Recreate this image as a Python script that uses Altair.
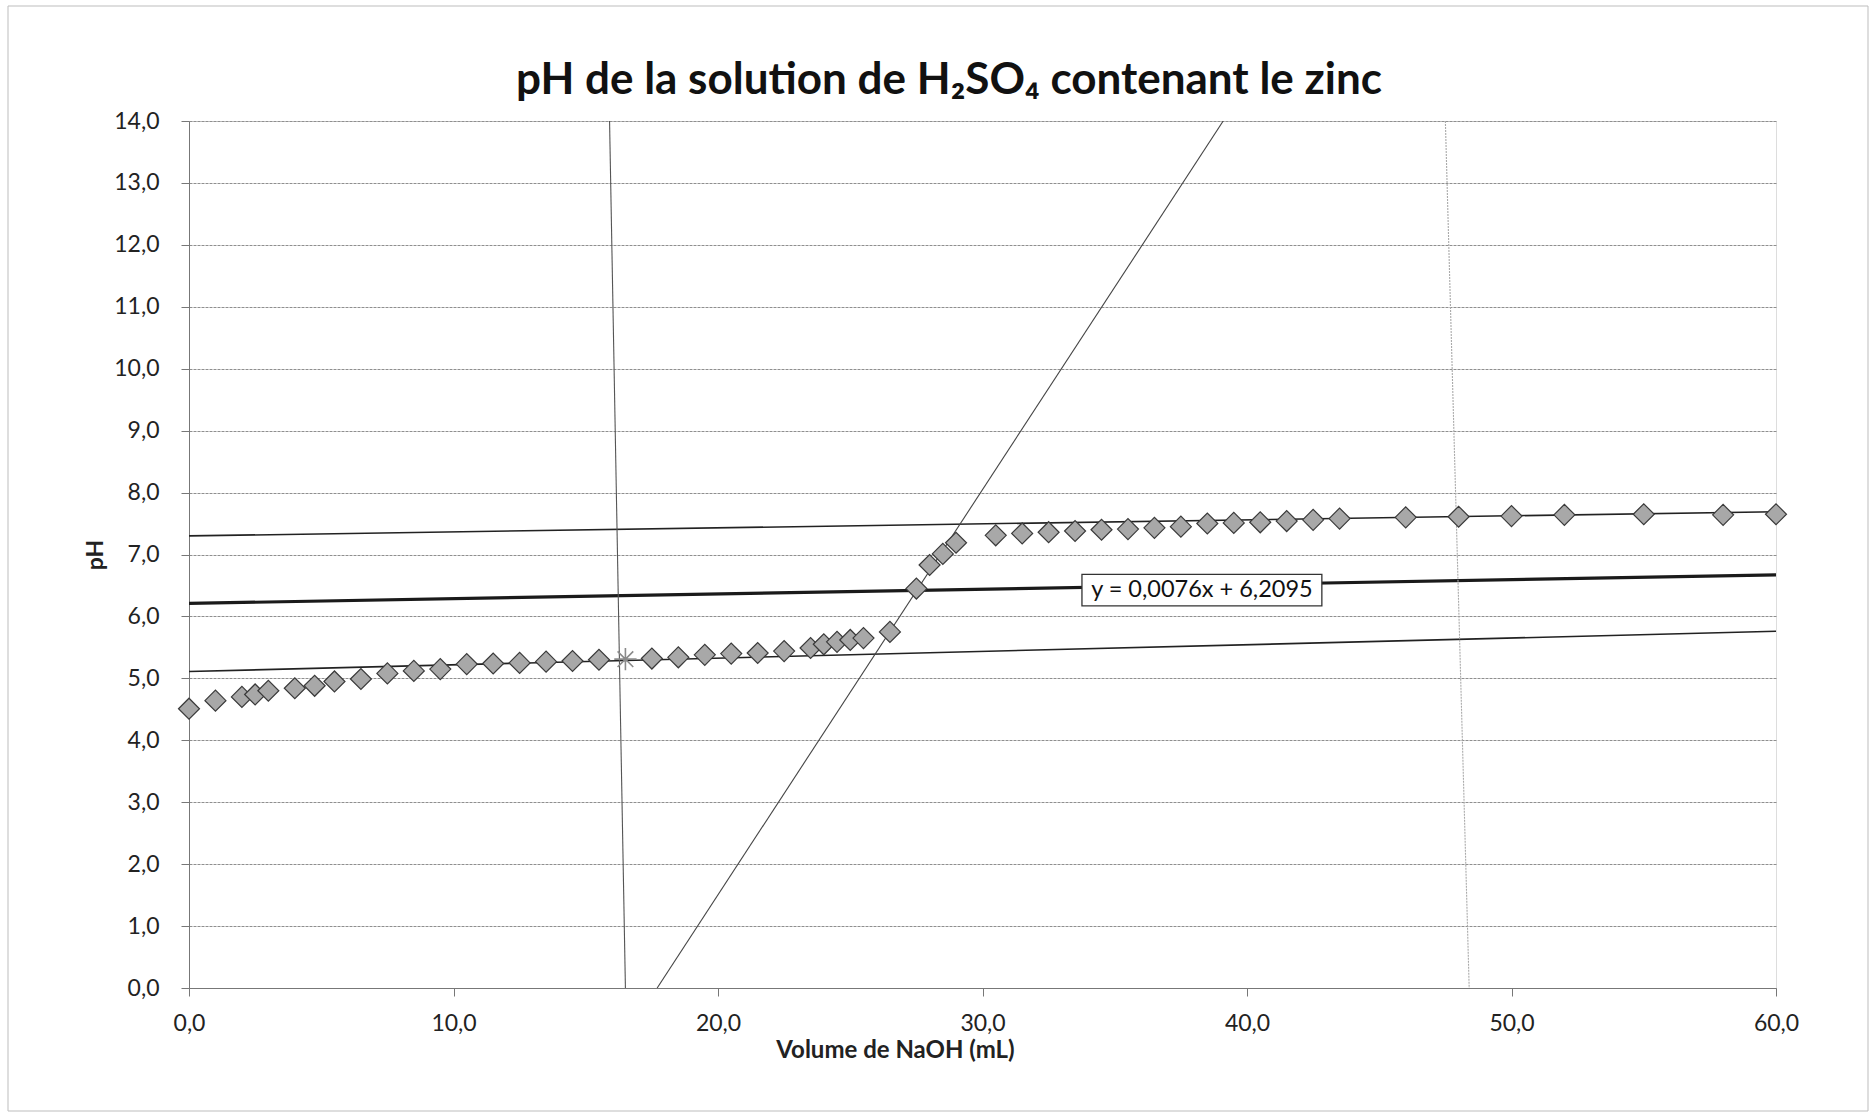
import altair as alt
import pandas as pd

# ---- data ----
volume = [0, 1, 2, 2.5, 3, 4, 4.75, 5.5, 6.5, 7.5, 8.5, 9.5, 10.5, 11.5, 12.5, 13.5,
          14.5, 15.5, 17.5, 18.5, 19.5, 20.5, 21.5, 22.5, 23.5, 24, 24.5, 25, 25.5,
          26.5, 27.5, 28, 28.5, 29, 30.5, 31.5, 32.5, 33.5, 34.5, 35.5, 36.5, 37.5,
          38.5, 39.5, 40.5, 41.5, 42.5, 43.5, 46, 48, 50, 52, 55, 58, 60]
ph = [4.51, 4.64, 4.70, 4.74, 4.80, 4.84, 4.88, 4.95, 4.99, 5.08, 5.12, 5.15, 5.23,
      5.24, 5.25, 5.27, 5.28, 5.30, 5.32, 5.34, 5.38, 5.40, 5.41, 5.44, 5.49, 5.55,
      5.59, 5.62, 5.65, 5.75, 6.45, 6.83, 7.01, 7.19, 7.31, 7.34, 7.36, 7.38, 7.40,
      7.41, 7.43, 7.45, 7.50, 7.51, 7.52, 7.54, 7.56, 7.58, 7.60, 7.61, 7.62, 7.64,
      7.65, 7.64, 7.65]

star_volume = [16.5]
star_ph = [5.31]

# construction lines (two end points each)
upper_x, upper_y = [0, 60], [7.30, 7.69]
trend_x, trend_y = [0, 60], [6.21, 6.67]
lower_x, lower_y = [0, 60], [5.11, 5.76]
steep_x, steep_y = [17.7, 39.1], [0, 14]
vert1_x, vert1_y = [15.9, 16.5], [14, 0]
vert2_x, vert2_y = [47.5, 48.4], [14, 0]

eq_text = "y = 0,0076x + 6,2095"
eq_box_x = [33.76, 42.83]
eq_box_y = [6.17, 6.68]

title_text = "pH de la solution de H\u2082SO\u2084 contenant le zinc"
x_title = "Volume de NaOH (mL)"
y_title = "pH"
x_ticks = [0, 10, 20, 30, 40, 50, 60]
y_ticks = list(range(0, 15))

FONT = "Lato"
W, H = 1587, 867

xs = alt.Scale(domain=[0, 60], nice=False, zero=False)
ys = alt.Scale(domain=[0, 14], nice=False, zero=False)
lab = "replace(format(datum.value, '.1f'), '.', ',')"

x_axis = alt.Axis(values=x_ticks, labelExpr=lab, title=x_title, grid=False,
                  labelFlush=False, labelOverlap=False,
                  domainColor="#777", tickColor="#777", tickSize=8,
                  labelFont=FONT, labelFontSize=23, labelColor="#222", labelPadding=16,
                  titleFont=FONT, titleFontSize=24, titleFontWeight="bold", titleColor="#222",
                  titleX=706, titleY=62, titleAlign="center", titleBaseline="middle")
y_axis = alt.Axis(values=y_ticks, labelExpr=lab, title=y_title, grid=True,
                  labelFlush=False, labelOverlap=False,
                  gridColor="#8f8f8f", gridDash=[3, 1], gridWidth=1.2,
                  domainColor="#777", tickColor="#777", tickSize=8,
                  labelFont=FONT, labelFontSize=23, labelColor="#222", labelPadding=22,
                  titleFont=FONT, titleFontSize=23, titleFontWeight="bold", titleColor="#222",
                  titlePadding=6)

pts = pd.DataFrame({"v": volume, "ph": ph})
stars = pd.DataFrame({"v": star_volume, "ph": star_ph})


def seg(xv, yv, name):
    return pd.DataFrame({"v": xv, "ph": yv, "name": name})


one = pd.DataFrame({"a": [0]})

base_axes = alt.Chart(pts).mark_point(opacity=0).encode(
    x=alt.X("v:Q", scale=xs, axis=x_axis),
    y=alt.Y("ph:Q", scale=ys, axis=y_axis),
)

frame = alt.Chart(one).mark_rect(
    fillOpacity=0, stroke="#bdbdbd", strokeWidth=1).encode(
    x=alt.value(-181), x2=alt.value(1679), y=alt.value(-115), y2=alt.value(990))

title = alt.Chart(one).mark_text(
    text=title_text, font=FONT, fontSize=44, fontWeight="bold", color="#111",
    align="center", baseline="alphabetic").encode(
    x=alt.value(760), y=alt.value(-27))


def line_layer(df, color, width, dash=None):
    kw = dict(color=color, strokeWidth=width, clip=True)
    if dash:
        kw["strokeDash"] = dash
    return alt.Chart(df).mark_line(**kw).encode(
        x=alt.X("v:Q", scale=xs), y=alt.Y("ph:Q", scale=ys))


upper = line_layer(seg(upper_x, upper_y, "upper"), "#222", 1.6)
trend = line_layer(seg(trend_x, trend_y, "trend"), "#1a1a1a", 3.2)
lower = line_layer(seg(lower_x, lower_y, "lower"), "#222", 1.6)
steep = line_layer(seg(steep_x, steep_y, "steep"), "#444", 1.1)
vert1 = line_layer(seg(vert1_x, vert1_y, "vert1"), "#555", 1.1)
vert2 = line_layer(seg(vert2_x, vert2_y, "vert2"), "#aaa", 1.1, [2, 1])

diamonds = alt.Chart(pts).mark_point(
    shape="diamond", filled=True, fill="#a8a8a8", stroke="#3a3a3a", strokeWidth=1.2,
    size=440, opacity=1).encode(
    x=alt.X("v:Q", scale=xs), y=alt.Y("ph:Q", scale=ys))

star_shape = "M-1,0L1,0M0,-1L0,1M-0.7,-0.7L0.7,0.7M-0.7,0.7L0.7,-0.7"
star = alt.Chart(stars).mark_point(
    shape=star_shape, filled=False, stroke="#8a8a8a", strokeWidth=1.6, size=500,
    opacity=1).encode(
    x=alt.X("v:Q", scale=xs), y=alt.Y("ph:Q", scale=ys))

box_df = pd.DataFrame({"x1": [eq_box_x[0]], "x2": [eq_box_x[1]],
                       "y1": [eq_box_y[0]], "y2": [eq_box_y[1]],
                       "xc": [(eq_box_x[0] + eq_box_x[1]) / 2],
                       "yc": [(eq_box_y[0] + eq_box_y[1]) / 2],
                       "t": [eq_text]})
eq_box = alt.Chart(box_df).mark_rect(fill="white", stroke="#333", strokeWidth=1.3).encode(
    x=alt.X("x1:Q", scale=xs), x2="x2:Q", y=alt.Y("y1:Q", scale=ys), y2="y2:Q")
eq_label = alt.Chart(box_df).mark_text(font=FONT, fontSize=23.5, color="#111",
                                       align="center", baseline="middle").encode(
    x=alt.X("xc:Q", scale=xs), y=alt.Y("yc:Q", scale=ys), text="t:N")

chart = alt.layer(
    frame, base_axes, upper, trend, lower, steep, vert1, vert2,
    diamonds, star, eq_box, eq_label, title
).properties(
    width=W, height=H,
    autosize=alt.AutoSizeParams(type="none"),
    padding={"left": 189, "top": 121, "right": 99, "bottom": 125},
).configure_view(stroke=None).configure(background="white")

chart.save("out.html", embed_options={"renderer": "svg", "actions": False})
